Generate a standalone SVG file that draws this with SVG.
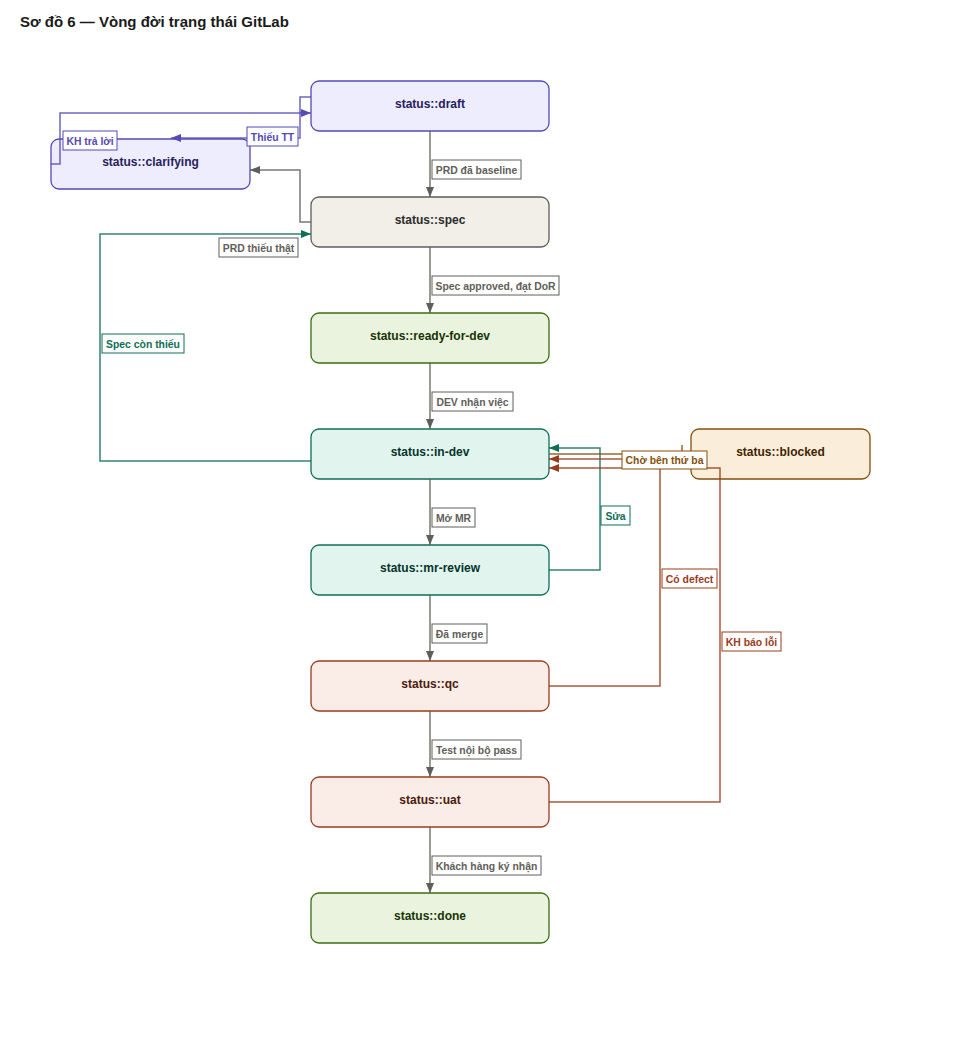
<svg xmlns="http://www.w3.org/2000/svg" width="960" height="1040" viewBox="0 0 960 1040">
<defs>
<style>
text{font-family:"Liberation Sans",Arial,sans-serif;font-weight:bold}
.title{font-size:15px;fill:#1a1a1a}
.nt{font-size:12px;text-anchor:middle}
.lt{font-size:10.4px;text-anchor:middle}
.node rect{stroke-width:1.3}
.e{fill:none;stroke-width:1.5;stroke-opacity:0.85}
.lb{fill:#ffffff;stroke-width:1}
.gray{stroke:#5F5E5A}.purple{stroke:#534AB7}.green{stroke:#0F6E56}.orange{stroke:#854F0B}.red{stroke:#993C1D}
.tgray{fill:#5F5E5A}.tpurple{fill:#534AB7}.tgreen{fill:#0F6E56}.torange{fill:#854F0B}.tred{fill:#993C1D}
</style>
<marker id="ag" viewBox="0 0 10 8" refX="10" refY="4" markerWidth="10" markerHeight="8" markerUnits="userSpaceOnUse" orient="auto"><path d="M0,0 L10,4 L0,8 z" fill="#5F5E5A"/></marker>
<marker id="ap" viewBox="0 0 10 8" refX="10" refY="4" markerWidth="10" markerHeight="8" markerUnits="userSpaceOnUse" orient="auto"><path d="M0,0 L10,4 L0,8 z" fill="#534AB7"/></marker>
<marker id="agr" viewBox="0 0 10 8" refX="10" refY="4" markerWidth="10" markerHeight="8" markerUnits="userSpaceOnUse" orient="auto"><path d="M0,0 L10,4 L0,8 z" fill="#0F6E56"/></marker>
<marker id="ar" viewBox="0 0 10 8" refX="10" refY="4" markerWidth="10" markerHeight="8" markerUnits="userSpaceOnUse" orient="auto"><path d="M0,0 L10,4 L0,8 z" fill="#993C1D"/></marker>
</defs>
<rect width="960" height="1040" fill="#ffffff"/>
<text class="title" x="20" y="27">Sơ đồ 6 — Vòng đời trạng thái GitLab</text>

<g id="node-draft" class="node"><rect x="311" y="81" width="238" height="50" rx="8" fill="#EEEDFE" stroke="#534AB7"/><text class="nt" x="430" y="108" fill="#26215C">status::draft</text></g>
<g id="node-clarifying" class="node"><rect x="51" y="139" width="199" height="50" rx="8" fill="#EEEDFE" stroke="#534AB7"/><text class="nt" x="150.5" y="166" fill="#26215C">status::clarifying</text></g>
<g id="node-spec" class="node"><rect x="311" y="197" width="238" height="50" rx="8" fill="#F1EFE8" stroke="#5F5E5A"/><text class="nt" x="430" y="224" fill="#2C2C2A">status::spec</text></g>
<g id="node-ready-for-dev" class="node"><rect x="311" y="313" width="238" height="50" rx="8" fill="#EAF3DE" stroke="#3B6D11"/><text class="nt" x="430" y="340" fill="#173404">status::ready-for-dev</text></g>
<g id="node-in-dev" class="node"><rect x="311" y="429" width="238" height="50" rx="8" fill="#E1F5EE" stroke="#0F6E56"/><text class="nt" x="430" y="456" fill="#04342C">status::in-dev</text></g>
<g id="node-blocked" class="node"><rect x="691" y="429" width="179" height="50" rx="8" fill="#FAEEDA" stroke="#854F0B"/><text class="nt" x="780.5" y="456" fill="#412402">status::blocked</text></g>
<g id="node-mr-review" class="node"><rect x="311" y="545" width="238" height="50" rx="8" fill="#E1F5EE" stroke="#0F6E56"/><text class="nt" x="430" y="572" fill="#04342C">status::mr-review</text></g>
<g id="node-qc" class="node"><rect x="311" y="661" width="238" height="50" rx="8" fill="#FAECE7" stroke="#993C1D"/><text class="nt" x="430" y="688" fill="#4A1B0C">status::qc</text></g>
<g id="node-uat" class="node"><rect x="311" y="777" width="238" height="50" rx="8" fill="#FAECE7" stroke="#993C1D"/><text class="nt" x="430" y="804" fill="#4A1B0C">status::uat</text></g>
<g id="node-done" class="node"><rect x="311" y="893" width="238" height="50" rx="8" fill="#EAF3DE" stroke="#3B6D11"/><text class="nt" x="430" y="920" fill="#173404">status::done</text></g>

<g id="connectors">
<path class="e gray" d="M430,131 V197" marker-end="url(#ag)"/>
<path class="e gray" d="M430,247 V313" marker-end="url(#ag)"/>
<path class="e gray" d="M430,363 V429" marker-end="url(#ag)"/>
<path class="e gray" d="M430,479 V545" marker-end="url(#ag)"/>
<path class="e gray" d="M430,595 V661" marker-end="url(#ag)"/>
<path class="e gray" d="M430,711 V777" marker-end="url(#ag)"/>
<path class="e gray" d="M430,827 V893" marker-end="url(#ag)"/>
<path class="e gray" d="M311,222 H300 V170 H250" marker-end="url(#ag)"/>
<path class="e purple" d="M311,97 H300 V138 H171" marker-end="url(#ap)"/>
<path class="e purple" d="M51,164 H60 V113 H311" marker-end="url(#ap)"/>
<path class="e green" d="M311,461 H100 V234 H311" marker-end="url(#agr)"/>
<path class="e green" d="M549,570 H600 V448 H549" marker-end="url(#agr)"/>
<path class="e orange" d="M549,454 H682 V445"/>
<path class="e red" d="M549,686 H660 V459 H549" marker-end="url(#ar)"/>
<path class="e red" d="M549,802 H720 V468 H549" marker-end="url(#ar)"/>
</g>

<g id="labels">
<rect class="lb gray" x="432" y="160" width="89" height="19"/><text class="lt tgray" x="476.5" y="173.5">PRD đã baseline</text>
<rect class="lb gray" x="432" y="276" width="127" height="19"/><text class="lt tgray" x="495.5" y="289.5">Spec approved, đạt DoR</text>
<rect class="lb gray" x="432" y="392" width="81" height="19"/><text class="lt tgray" x="472.5" y="405.5">DEV nhận việc</text>
<rect class="lb gray" x="432" y="508" width="43" height="19"/><text class="lt tgray" x="453.5" y="521.5">Mở MR</text>
<rect class="lb gray" x="432" y="624" width="55" height="19"/><text class="lt tgray" x="459.5" y="637.5">Đã merge</text>
<rect class="lb gray" x="432" y="740" width="89" height="19"/><text class="lt tgray" x="476.5" y="753.5">Test nội bộ pass</text>
<rect class="lb gray" x="432" y="856" width="109" height="19"/><text class="lt tgray" x="486.5" y="869.5">Khách hàng ký nhận</text>
<rect class="lb purple" x="247" y="127" width="51" height="19"/><text class="lt tpurple" x="272.5" y="140.5">Thiếu TT</text>
<rect class="lb purple" x="63" y="131" width="54" height="19"/><text class="lt tpurple" x="90" y="144.5">KH trả lời</text>
<rect class="lb gray" x="219" y="238" width="79" height="19"/><text class="lt tgray" x="258.5" y="251.5">PRD thiếu thật</text>
<rect class="lb green" x="102" y="334" width="82" height="19"/><text class="lt tgreen" x="143" y="347.5">Spec còn thiếu</text>
<rect class="lb green" x="601" y="506" width="29" height="19"/><text class="lt tgreen" x="615.5" y="519.5">Sửa</text>
<rect class="lb orange" x="622" y="451" width="85" height="18"/><text class="lt torange" x="664.5" y="464">Chờ bên thứ ba</text>
<rect class="lb red" x="662" y="569" width="55" height="19"/><text class="lt tred" x="689.5" y="582.5">Có defect</text>
<rect class="lb red" x="722" y="632" width="59" height="19"/><text class="lt tred" x="751.5" y="645.5">KH báo lỗi</text>
</g>
</svg>
